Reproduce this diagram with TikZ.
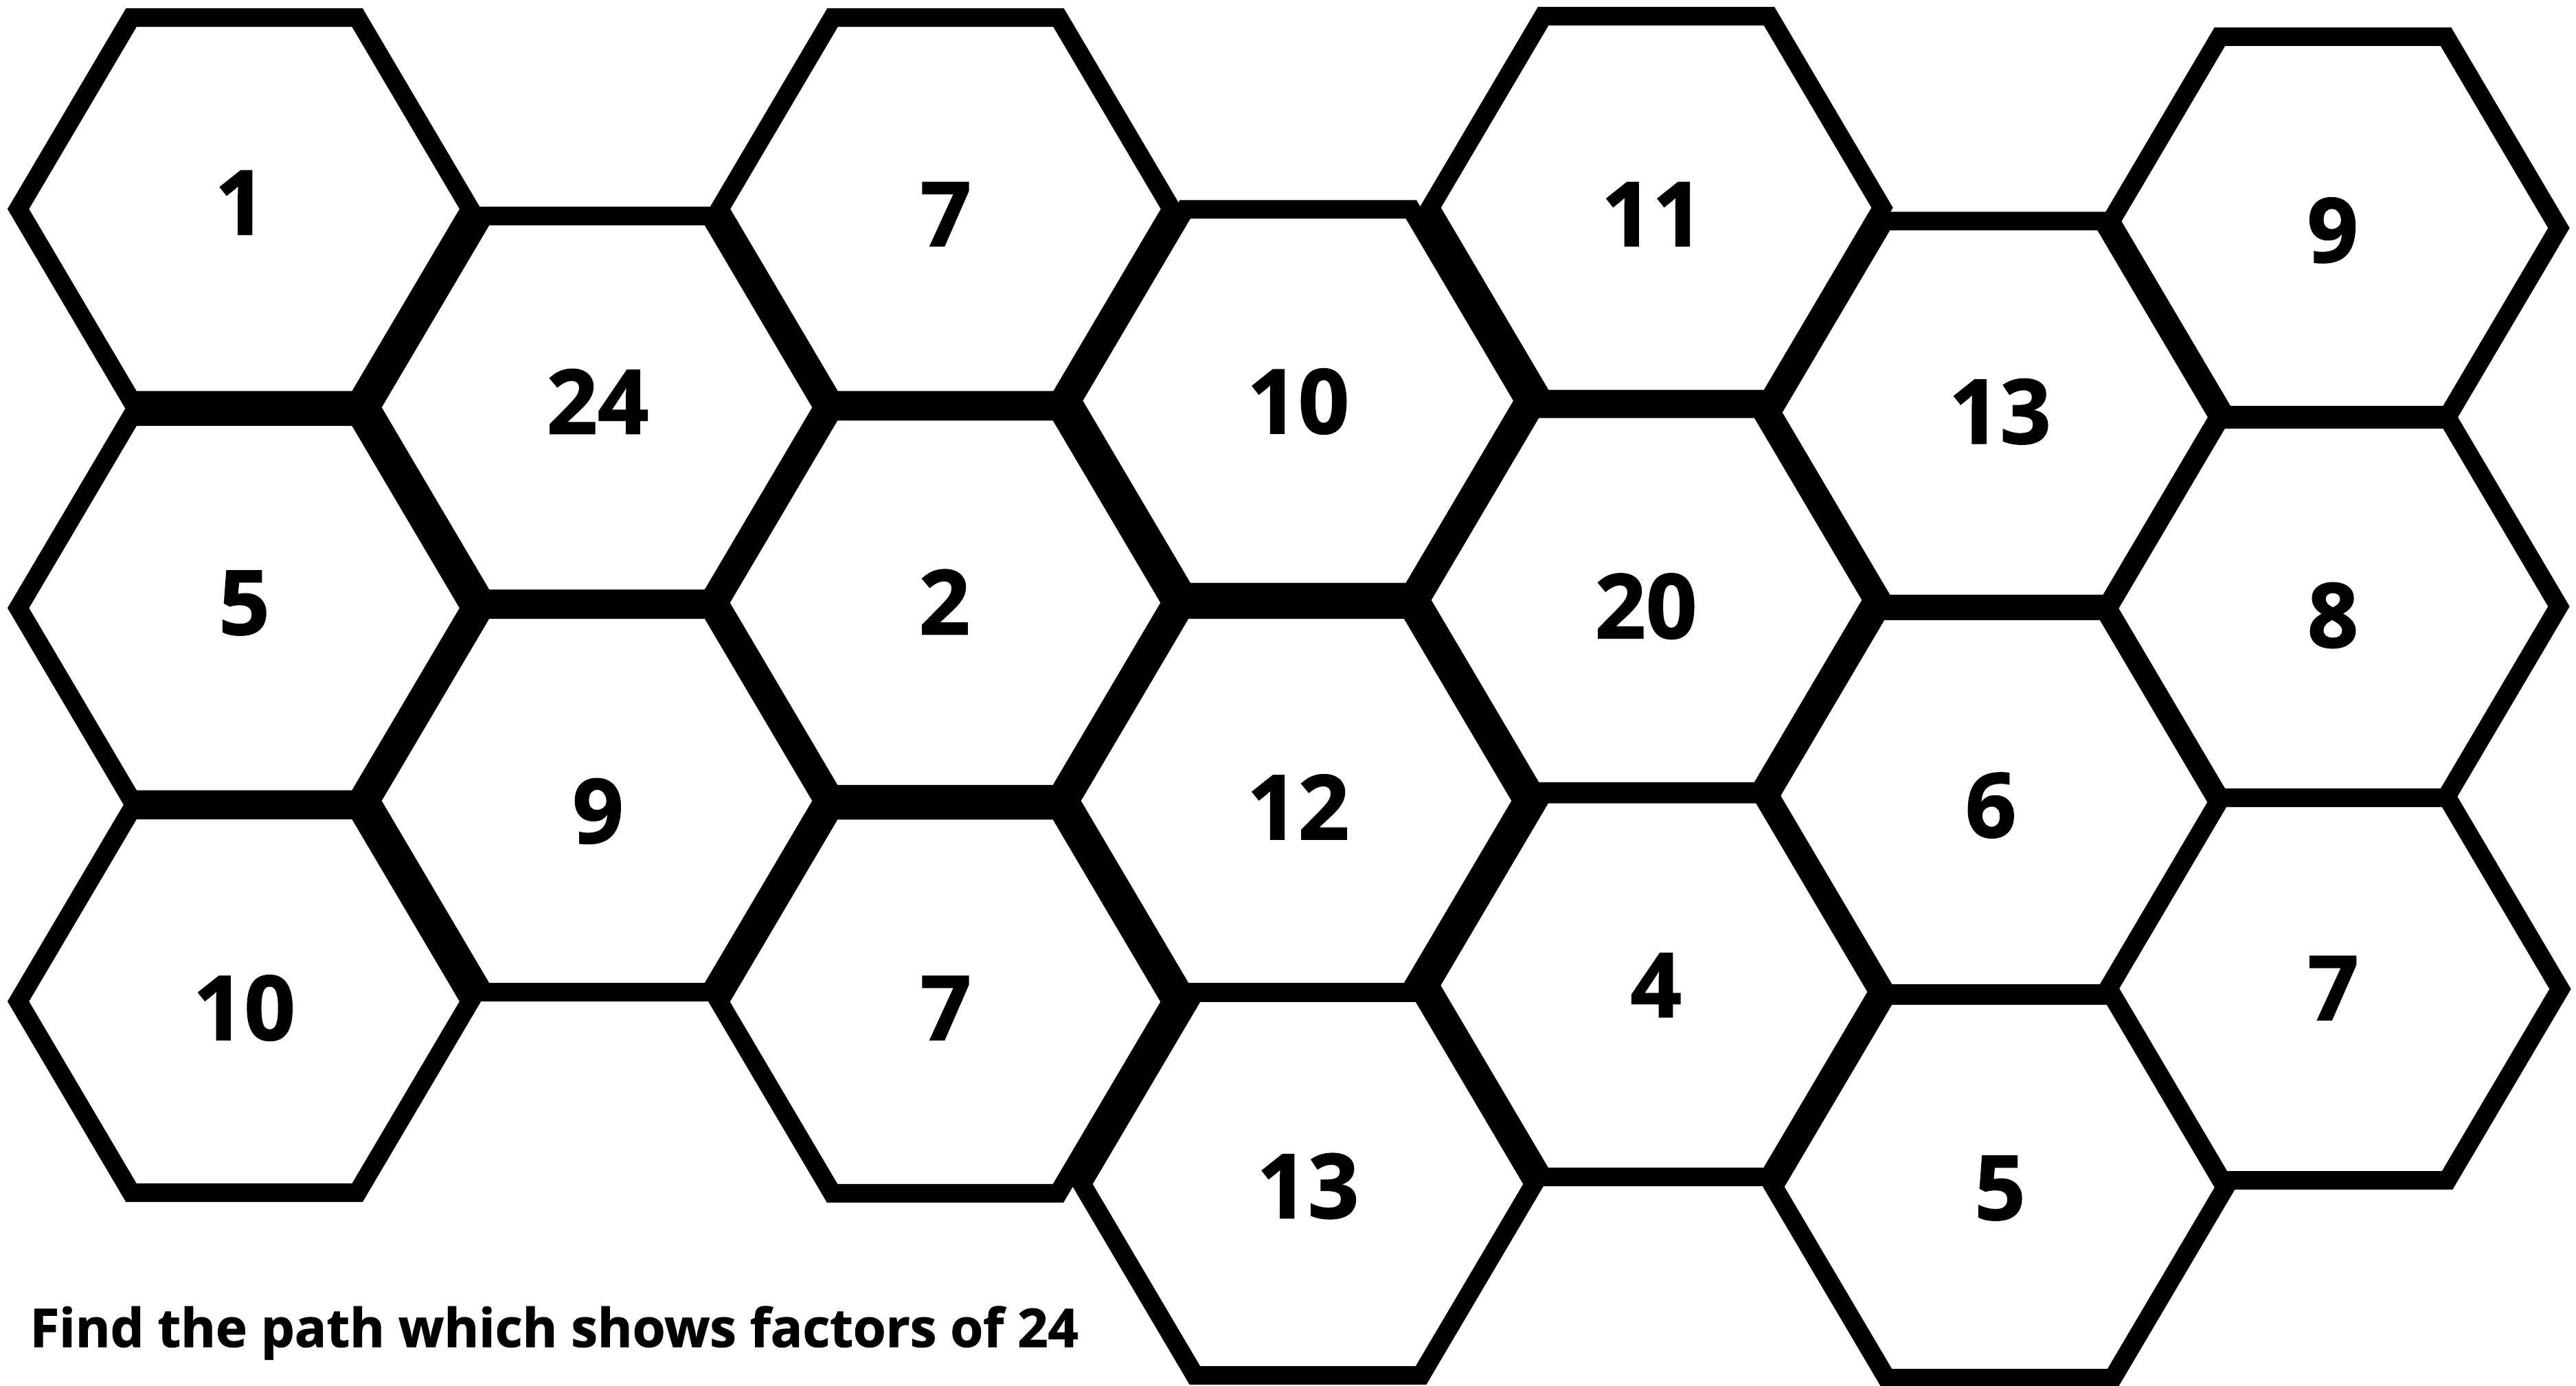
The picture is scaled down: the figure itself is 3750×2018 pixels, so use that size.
\documentclass[tikz,border=0pt]{standalone}
\usepackage{fontspec}
\setmainfont{Open Sans}[BoldFeatures={FakeBold=1.3}]
\tikzset{
    hexline/.style={draw=black, line width=0.27cm},
    hexcell/.pic={\draw[hexline] (-329,0) -- (-164.5,-278.7) -- (164.5,-278.7) -- (329,0) -- (164.5,278.7) -- (-164.5,278.7) -- cycle;},
    numlabel/.style={font=\bfseries\fontsize{37}{40}\selectfont, inner sep=0pt},
    tasktext/.style={font=\bfseries\fontsize{22}{25}\selectfont, inner sep=0pt, anchor=base west},
}
\begin{document}
\begin{tikzpicture}[x=0.01cm, y=-0.01cm]
    \useasboundingbox (0,0) rectangle (3750,2018);
    % Spalte 1
    \pic (h1) at (355.6, 304.3) {hexcell};
    \pic (h5) at (355.6, 885.3) {hexcell};
    \pic (h10a) at (355.6, 1458) {hexcell};
    % Spalte 2
    \pic (h24) at (869, 593.2) {hexcell};
    \pic (h9a) at (869, 1166) {hexcell};
    % Spalte 3
    \pic (h7a) at (1376.5, 304.3) {hexcell};
    \pic (h2) at (1376, 877.6) {hexcell};
    \pic (h7b) at (1376, 1458.6) {hexcell};
    % Spalte 4
    \pic (h10b) at (1889.7, 583.5) {hexcell};
    \pic (h12) at (1887, 1166) {hexcell};
    \pic (h13a) at (1904, 1724) {hexcell};
    % Spalte 5
    \pic (h11) at (2411, 302.4) {hexcell};
    \pic (h20) at (2397, 873.7) {hexcell};
    \pic (h4) at (2410.6, 1434.8) {hexcell};
    % Spalte 6
    \pic (h13b) at (2908, 600.6) {hexcell};
    \pic (h6) at (2900, 1168) {hexcell};
    \pic (h5b) at (2911, 1728) {hexcell};
    % Spalte 7
    \pic (h9b) at (3396, 332) {hexcell};
    \pic (h8) at (3396, 883) {hexcell};
    \pic (h7c) at (3398, 1440) {hexcell};

    % Zahlen
    \node[numlabel] (n1) at (350, 295) {1};
    \node[numlabel] (n5) at (355.6, 878) {5};
    \node[numlabel] (n10a) at (355.5, 1467.6) {10};
    \node[numlabel] (n24) at (870, 584.5) {24};
    \node[numlabel] (n9a) at (870.5, 1181) {9};
    \node[numlabel] (n7a) at (1376.8, 311.8) {7};
    \node[numlabel] (n2) at (1375, 876.3) {2};
    \node[numlabel] (n7b) at (1376.8, 1467.6) {7};
    \node[numlabel] (n10b) at (1889.8, 584.5) {10};
    \node[numlabel] (n12) at (1889.8, 1174.8) {12};
    \node[numlabel] (n13a) at (1904, 1727) {13};
    \node[numlabel] (n11) at (2405.5, 311.8) {11};
    \node[numlabel] (n20) at (2396, 882.7) {20};
    \node[numlabel] (n4) at (2410.7, 1434.4) {4};
    \node[numlabel] (n13b) at (2911.4, 599.3) {13};
    \node[numlabel] (n6) at (2898, 1172.6) {6};
    \node[numlabel] (n5b) at (2911.4, 1730) {5};
    \node[numlabel] (n9b) at (3395.7, 335.3) {9};
    \node[numlabel] (n8) at (3396, 896) {8};
    \node[numlabel] (n7c) at (3396.5, 1438.6) {7};

    % Aufgabe
    \node[tasktext] (task) at (43, 1961) {Find the path which shows factors of 24};
\end{tikzpicture}
\end{document}
